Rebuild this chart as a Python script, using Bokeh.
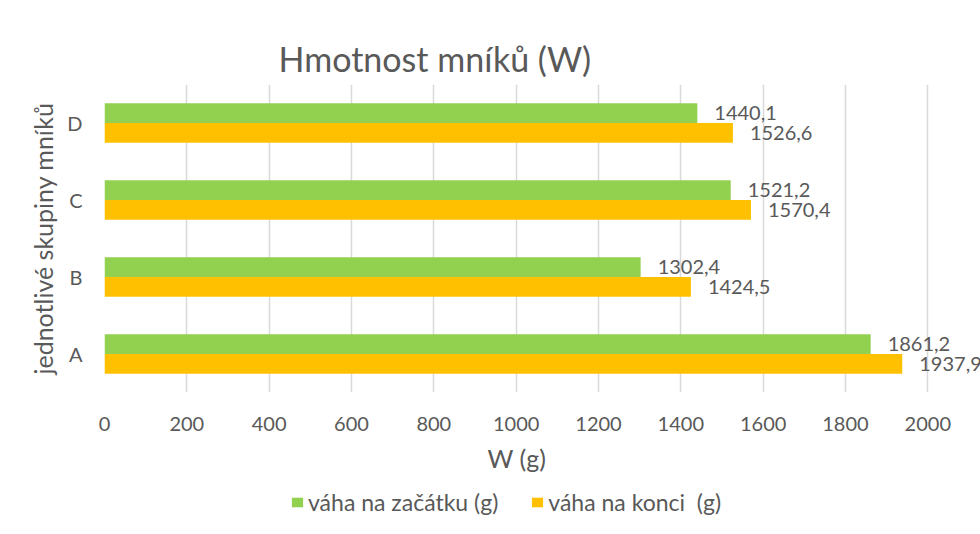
from bokeh.plotting import figure
from bokeh.layouts import column
from bokeh.models import (ColumnDataSource, LabelSet, Legend, LegendItem,
                          FactorRange, Range1d, FixedTicker, Title)
from bokeh.core.properties import value
from bokeh.transform import dodge
from bokeh.embed import file_html
from bokeh.resources import INLINE

# ---- data ----
categories = ["A", "B", "C", "D"]
vaha_zacatek = [1861.2, 1302.4, 1521.2, 1440.1]
vaha_konec = [1937.9, 1424.5, 1570.4, 1526.6]
x_ticks = [0, 200, 400, 600, 800, 1000, 1200, 1400, 1600, 1800, 2000]
series_names = ["váha na začátku (g)", "váha na konci  (g)"]
title_text = "Hmotnost mníků (W)"
x_title = "W (g)"
y_title = "jednotlivé skupiny mníků"

FONT = "Lato"
TXT = "#595959"
GREEN = "#92D050"
YELLOW = "#FFC000"
GRID = "#d9d9d9"

def fmt(v):
    return f"{v:.1f}".replace(".", ",")

src = ColumnDataSource(dict(
    cat=categories,
    start=vaha_zacatek,
    end=vaha_konec,
    start_lbl=[fmt(v) for v in vaha_zacatek],
    end_lbl=[fmt(v) for v in vaha_konec],
))

# ---------------- main chart ----------------
p = figure(width=980, height=486, output_backend="svg", toolbar_location=None,
           y_range=FactorRange(*categories), x_range=Range1d(0, 2128),
           min_border_left=104, min_border_right=0, min_border_top=84,
           min_border_bottom=94)
p.outline_line_color = None

OFF = 0.128
H = 0.255
r1 = p.hbar(y=dodge("cat", OFF, range=p.y_range), right="start", left=0, height=H,
            source=src, fill_color=GREEN, line_color=None)
r2 = p.hbar(y=dodge("cat", -OFF, range=p.y_range), right="end", left=0, height=H,
            source=src, fill_color=YELLOW, line_color=None)

for col, lbl, off in (("start", "start_lbl", OFF), ("end", "end_lbl", -OFF)):
    ls = LabelSet(x=col, y=dodge("cat", off, range=p.y_range), text=lbl, source=src,
                  x_offset=17, text_baseline="middle", text_align="left",
                  text_font=value(FONT), text_font_size="20px", text_color=TXT)
    p.add_layout(ls)

p.title.text = title_text
p.title.align = "left"
p.title.offset = 174
p.title.standoff = 11
p.title.text_font = FONT
p.title.text_font_size = "34px"
p.title.text_font_style = "normal"
p.title.text_color = TXT

xa = p.xaxis[0]
xa.ticker = FixedTicker(ticks=x_ticks)
xa.axis_line_color = None
xa.major_tick_line_color = None
xa.minor_tick_line_color = None
xa.major_tick_out = 0
xa.minor_tick_out = 0
xa.major_label_text_font = FONT
xa.major_label_text_font_size = "20px"
xa.major_label_text_color = TXT
xa.major_label_standoff = 24

# x axis title, centred on the 0-2000 part of the plot area
xt = Title(text=x_title, align="left", offset=383, standoff=14,
           text_font=FONT, text_font_size="25px", text_font_style="normal",
           text_color=TXT)
p.add_layout(xt, "below")

ya = p.yaxis[0]
ya.axis_line_color = None
ya.major_tick_line_color = None
ya.minor_tick_line_color = None
ya.major_tick_out = 0
ya.minor_tick_out = 0
ya.major_label_text_font = FONT
ya.major_label_text_font_size = "20px"
ya.major_label_text_color = TXT
ya.major_label_standoff = 22
ya.axis_label = y_title
ya.axis_label_text_font = FONT
ya.axis_label_text_font_size = "25px"
ya.axis_label_text_font_style = "normal"
ya.axis_label_text_color = TXT
ya.axis_label_standoff = 6

p.xgrid.grid_line_color = GRID
p.xgrid.grid_line_width = 1.5
p.ygrid.grid_line_color = None

# ---------------- legend strip ----------------
p2 = figure(width=980, height=48, output_backend="svg", toolbar_location=None,
            x_range=Range1d(0, 1), y_range=Range1d(0, 1), title=None,
            x_axis_location=None, y_axis_location=None, min_border=0)
p2.outline_line_color = None
p2.xgrid.visible = False
p2.ygrid.visible = False
# legend-only renderers (placed below the strip's visible range)
g1 = p2.hbar(y=-1, right="start", left=0, height=0.5, source=src,
             fill_color=GREEN, line_color=None)
g2 = p2.hbar(y=-1, right="end", left=0, height=0.5, source=src,
             fill_color=YELLOW, line_color=None)
legend = Legend(items=[LegendItem(label=series_names[0], renderers=[g1]),
                       LegendItem(label=series_names[1], renderers=[g2])],
                orientation="horizontal", location=(186, 18),
                padding=0, margin=0, spacing=32, label_standoff=4,
                glyph_width=14, glyph_height=12,
                label_text_font=FONT, label_text_font_size="23px",
                label_text_color=TXT, border_line_color=None,
                background_fill_alpha=0)
p2.add_layout(legend, "center")

layout = column(p, p2, spacing=0)
open("out.html", "w").write(file_html(layout, INLINE))
